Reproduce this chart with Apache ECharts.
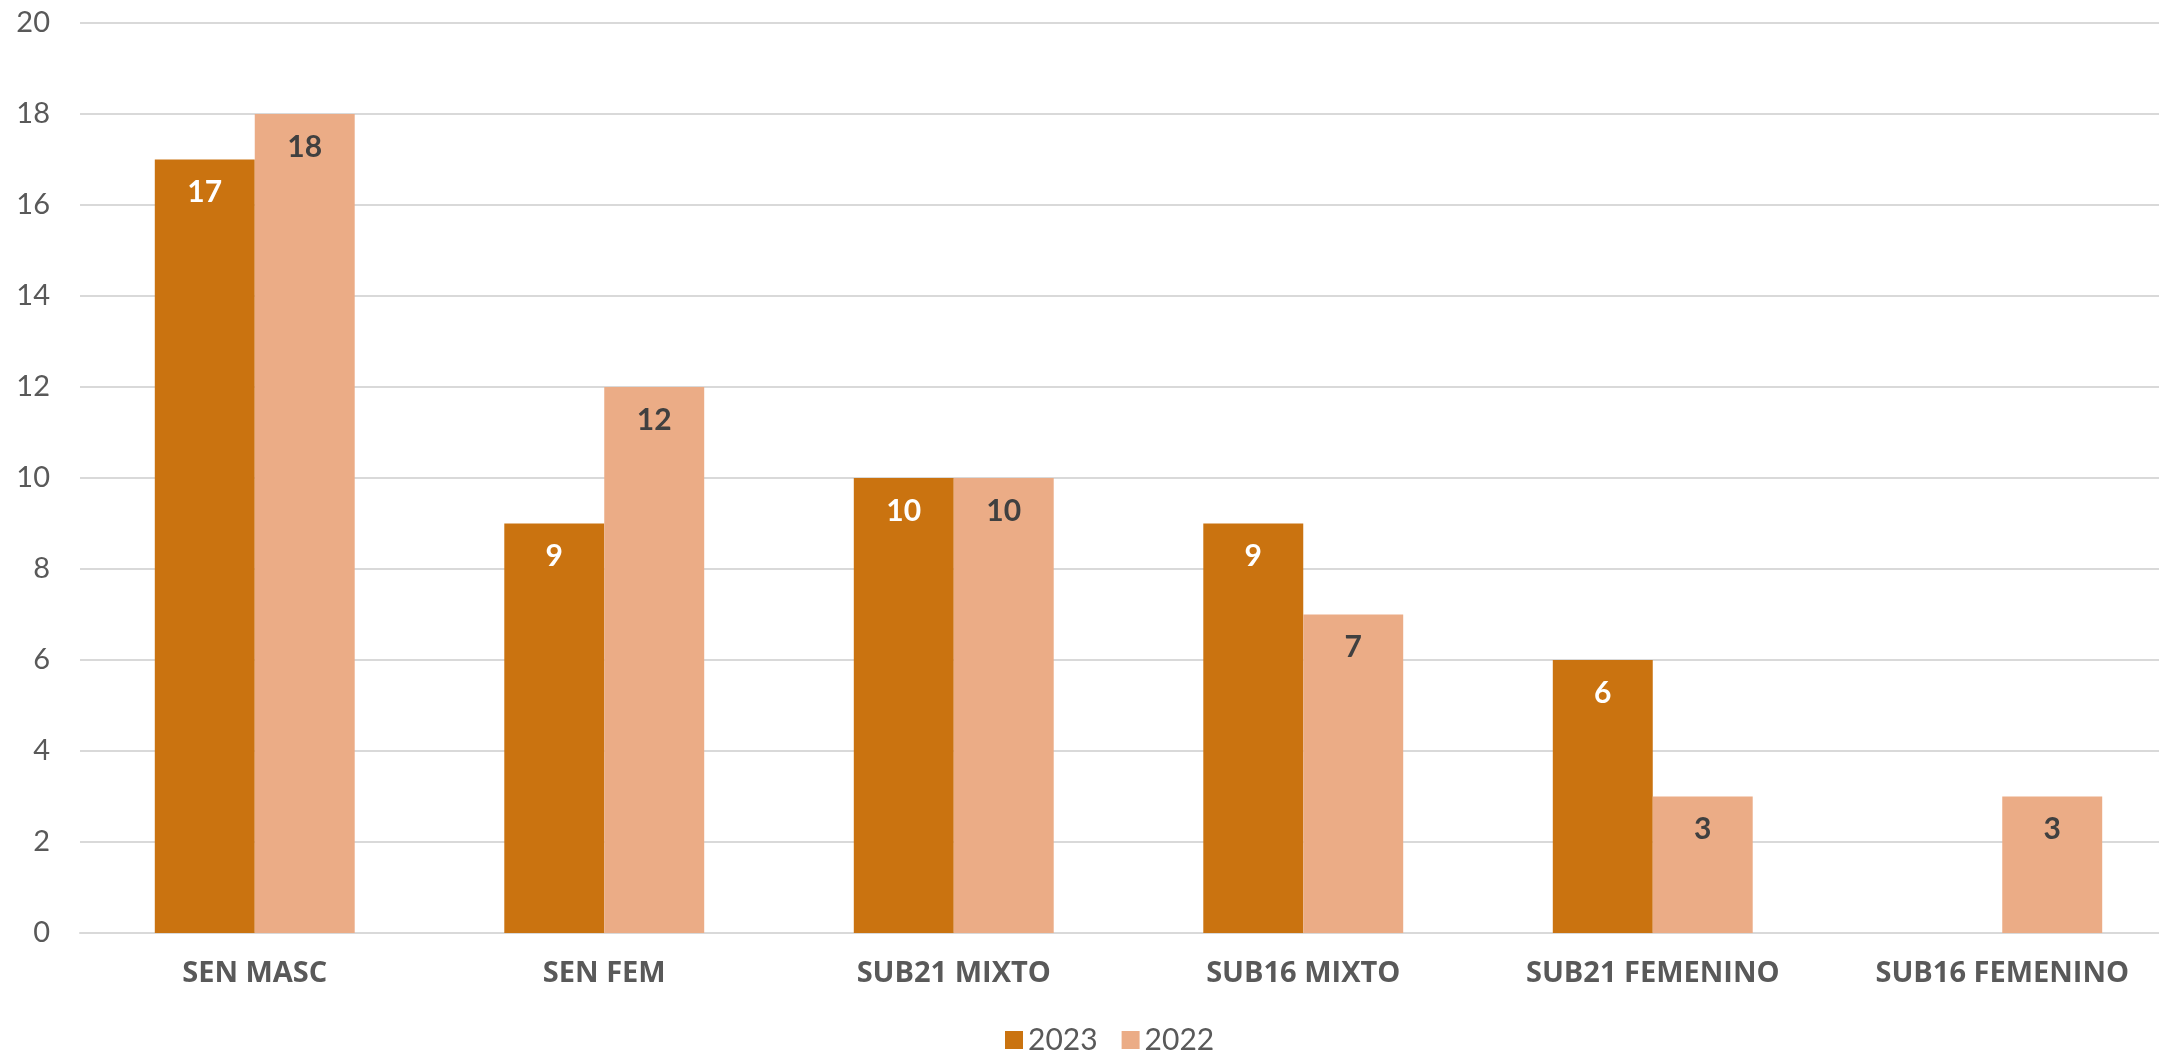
<!DOCTYPE html>
<html>
<head>
<meta charset="utf-8">
<script src="https://cdn.jsdelivr.net/npm/echarts@6/dist/echarts.min.js"></script>
<style>
  html, body { margin: 0; padding: 0; background: #fff; overflow: hidden; }
  #chart { width: 2177px; height: 1051px; }
</style>
</head>
<body>
<div id="chart"></div>
<script>
// categorias y valores
const categories = ['SEN MASC', 'SEN FEM', 'SUB21 MIXTO', 'SUB16 MIXTO', 'SUB21 FEMENINO', 'SUB16 FEMENINO']
const values2023 = [17, 9, 10, 9, 6, null]
const values2022 = [18, 12, 10, 7, 3, 3]
const yTicks = { min: 0, max: 20, interval: 2 }

const fontFamily = 'Lato, "Open Sans", sans-serif'
const boldFamily = '"Open Sans", Lato, sans-serif'
const gray = '#595959'

// el grafico original se corta en el borde derecho, por eso el div es algo mas ancho
const chart = echarts.init(document.getElementById('chart'))
chart.setOption({
  animation: false,
  grid: { left: 80, right: 0, top: 23, bottom: 118 },
  legend: {
    data: ['2023', '2022'],
    top: 1020,
    left: 1000,
    itemWidth: 18,
    itemHeight: 18,
    itemGap: 24,
    icon: 'rect',
    textStyle: { fontFamily: fontFamily, fontSize: 30, color: gray }
  },
  xAxis: {
    type: 'category',
    data: categories,
    axisTick: { show: false },
    axisLine: { lineStyle: { color: '#D9D9D9', width: 2 } },
    axisLabel: {
      interval: 0,
      margin: 26,
      fontFamily: boldFamily,
      fontWeight: 'bold',
      fontSize: 29,
      color: gray
    }
  },
  yAxis: {
    type: 'value',
    min: yTicks.min,
    max: yTicks.max,
    interval: yTicks.interval,
    axisLine: { show: false },
    axisTick: { show: false },
    splitLine: { lineStyle: { color: '#D9D9D9', width: 2 } },
    axisLabel: {
      margin: 30,
      fontFamily: fontFamily,
      fontSize: 29,
      color: gray
    }
  },
  series: [
    {
      name: '2023',
      type: 'bar',
      data: values2023,
      barGap: '0%',
      barCategoryGap: '42.8%',
      itemStyle: { color: '#CA7310' },
      label: {
        show: true,
        position: 'insideTop',
        distance: 18,
        fontFamily: fontFamily,
        fontWeight: 'bold',
        fontSize: 30,
        color: '#FFFFFF'
      }
    },
    {
      name: '2022',
      type: 'bar',
      data: values2022,
      itemStyle: { color: '#EBAC86' },
      label: {
        show: true,
        position: 'insideTop',
        distance: 18,
        fontFamily: fontFamily,
        fontWeight: 'bold',
        fontSize: 30,
        color: '#404040'
      }
    }
  ]
})
</script>
</body>
</html>
